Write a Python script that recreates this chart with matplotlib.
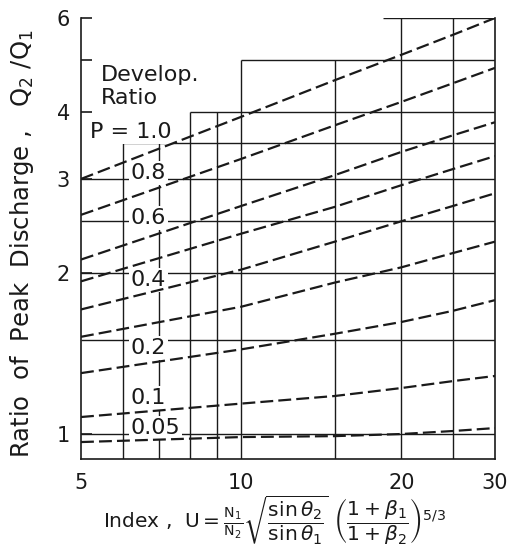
import matplotlib
matplotlib.use("Agg")
import matplotlib.pyplot as plt
from matplotlib.ticker import FixedLocator, FixedFormatter, NullLocator

# ---------------- data ----------------
U = [5, 10, 15, 20, 25, 30]

q_p100 = [3.00, 3.92, 4.59, 5.12, 5.58, 6.00]
q_p080 = [2.57, 3.27, 3.78, 4.18, 4.53, 4.84]
q_p060 = [2.12, 2.67, 3.05, 3.37, 3.62, 3.83]
q_mid1 = [1.93, 2.37, 2.66, 2.92, 3.13, 3.31]
q_p040 = [1.71, 2.03, 2.29, 2.50, 2.67, 2.82]
q_mid2 = [1.52, 1.73, 1.92, 2.05, 2.18, 2.29]
q_p020 = [1.30, 1.44, 1.54, 1.62, 1.70, 1.78]
q_p010 = [1.076, 1.14, 1.178, 1.219, 1.256, 1.284]
q_p005 = [0.966, 0.987, 0.991, 1.000, 1.013, 1.026]

curve_list = [q_p100, q_p080, q_p060, q_mid1, q_p040, q_mid2, q_p020, q_p010, q_p005]

label_texts = ["P = 1.0", "0.8", "0.6", "0.4", "0.2", "0.1", "0.05"]

x_tick_vals = [5, 10, 20, 30]
x_tick_labels = ["5", "10", "20", "30"]
y_tick_vals = [1, 2, 3, 4, 5, 6]
y_tick_labels = ["1", "2", "3", "4", "", "6"]

# stepped grid of the chart
h_levels = [1, 1.5, 2, 2.5, 3, 3.5, 4, 5, 6]
h_start = [5, 5, 5, 5, 5, 6, 8, 10, 18.5]
v_levels = [6, 7, 8, 9, 10, 15, 20, 25]
v_top = [3.5, 3.5, 4, 4, 5, 5, 6, 6]

# ---------------- figure ----------------
ink = "#1a1a1a"
XMIN, XMAX = 5, 30
YMIN, YMAX = 0.898, 6

fig = plt.figure(figsize=(5.13, 5.49), dpi=100)
ax = fig.add_axes([81 / 513, 90 / 549, 414 / 513, 441 / 549])
ax.set_xscale("log")
ax.set_yscale("log")
ax.set_xlim(XMIN, XMAX)
ax.set_ylim(YMIN, YMAX)

for y, x0 in zip(h_levels, h_start):
    ax.plot([x0, XMAX], [y, y], color=ink, lw=1.0, zorder=1, solid_capstyle="butt")
for x, yt in zip(v_levels, v_top):
    ax.plot([x, x], [YMIN, yt], color=ink, lw=1.0, zorder=1, solid_capstyle="butt")

for q in curve_list:
    ax.plot(U, q, color=ink, lw=1.6, dashes=(5.8, 2.3), zorder=3)

for s in ["left", "right", "bottom"]:
    ax.spines[s].set_linewidth(1.2)
    ax.spines[s].set_color(ink)
ax.spines["top"].set_visible(False)

ax.xaxis.set_major_locator(FixedLocator(x_tick_vals))
ax.xaxis.set_major_formatter(FixedFormatter(x_tick_labels))
ax.xaxis.set_minor_locator(NullLocator())
ax.yaxis.set_major_locator(FixedLocator(y_tick_vals))
ax.yaxis.set_major_formatter(FixedFormatter(y_tick_labels))
ax.yaxis.set_minor_locator(NullLocator())
ax.tick_params(axis="x", length=0, pad=10, labelsize=15, colors=ink)
ax.tick_params(axis="y", direction="in", length=8, width=1.2, pad=8,
               labelsize=15, colors=ink)

# annotations
txt_kw = dict(color=ink, fontsize=16, zorder=2)
box = dict(facecolor="white", edgecolor="none", pad=1.5)
ax.text(5.45, 4.69, "Develop.", ha="left", va="center", **txt_kw)
ax.text(5.45, 4.25, "Ratio", ha="left", va="center", **txt_kw)
label_pos = [(5.2, 3.67), (6.2, 3.08), (6.2, 2.54), (6.2, 1.94),
             (6.2, 1.45), (6.2, 1.168), (6.2, 1.026)]
for t, (lx, ly) in zip(label_texts, label_pos):
    ax.text(lx, ly, t, ha="left", va="center", bbox=box, **txt_kw)

fig.text(0.043, 0.556,
         r"Ratio  of  Peak  Discharge ,   $\mathrm{Q}_2\ /\mathrm{Q}_1$",
         rotation=90, ha="center", va="center", fontsize=17.5, color=ink)
fig.text(0.535, 0.004,
         r"Index ,  $\mathrm{U}=\frac{\mathrm{N}_1}{\mathrm{N}_2}"
         r"\sqrt{\dfrac{\sin\theta_2}{\sin\theta_1}}\ "
         r"\left(\dfrac{1+\beta_1}{1+\beta_2}\right)^{5/3}$",
         ha="center", va="bottom", fontsize=14.5, color=ink)

fig.savefig("out.png", dpi=100, facecolor="white")
